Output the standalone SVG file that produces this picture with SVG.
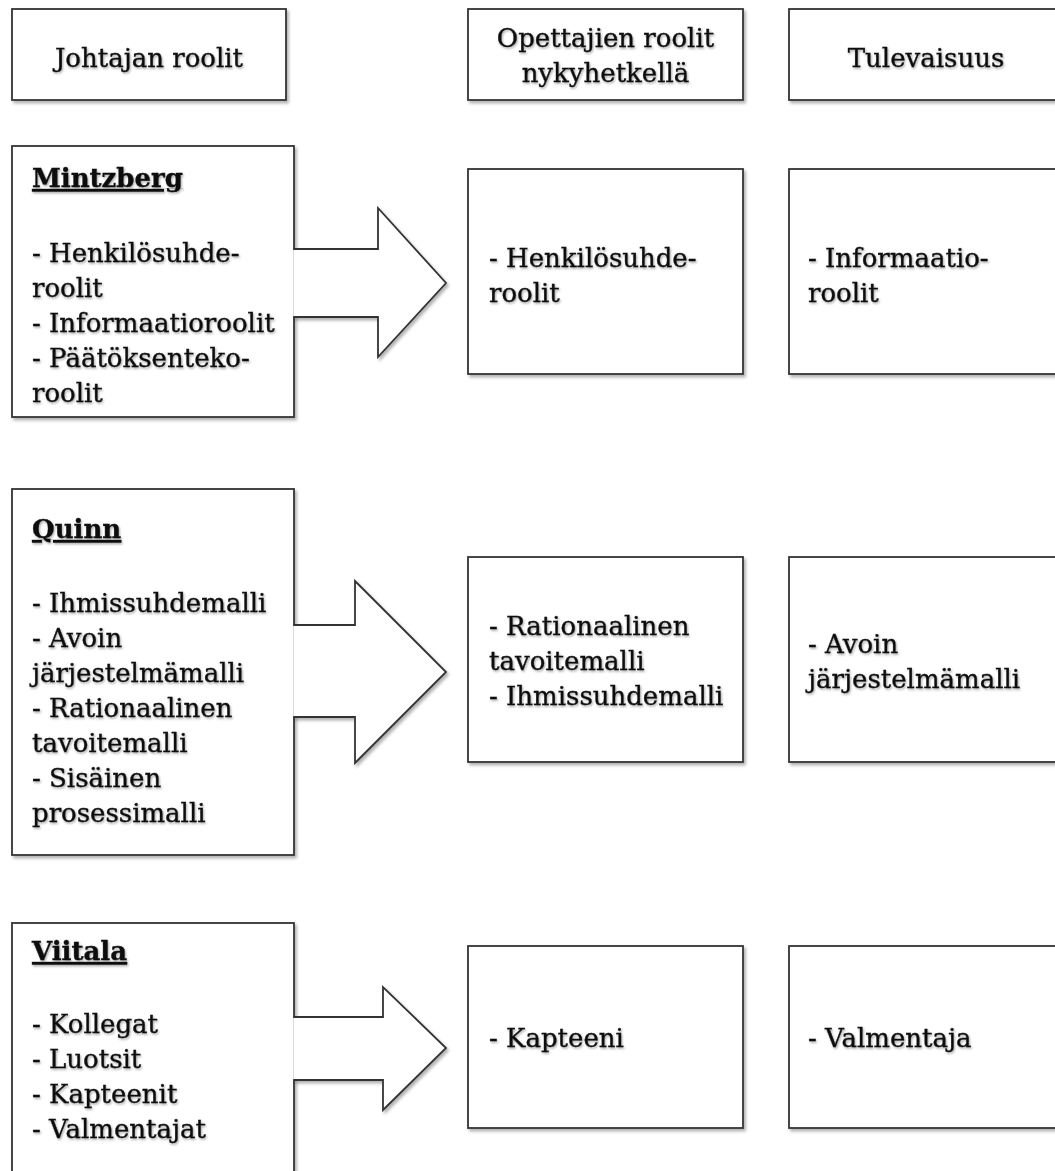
<svg xmlns="http://www.w3.org/2000/svg" width="1055" height="1171" viewBox="0 0 1055 1171">
  <defs>
    <filter id="boxShadow" x="-5%" y="-5%" width="115%" height="115%">
      <feDropShadow dx="2" dy="2.5" stdDeviation="1.6" flood-color="#000" flood-opacity="0.3"/>
    </filter>
    <filter id="txtShadow" x="-5%" y="-20%" width="115%" height="150%">
      <feDropShadow dx="1" dy="1.5" stdDeviation="1" flood-color="#000" flood-opacity="0.35"/>
    </filter>
  </defs>
  <style>
    .box { fill: #ffffff; stroke: #333333; stroke-width: 1.8; filter: url(#boxShadow); }
    .arrow { fill: #ffffff; stroke: #333333; stroke-width: 1.8; stroke-linejoin: miter; filter: url(#boxShadow); }
    text { font-family: "DejaVu Serif", "Liberation Serif", serif; font-size: 26px; fill: #111111; stroke: #111111; stroke-width: 0.35; filter: url(#txtShadow); }
    .title { font-weight: bold; text-decoration: underline; }
    .mid { text-anchor: middle; }
  </style>
  <rect width="1055" height="1171" fill="#ffffff"/>

  <g id="header-johtajan">
    <rect class="box" x="12" y="9" width="274" height="91"/>
    <text class="mid" x="149" y="67">Johtajan roolit</text>
  </g>
  <g id="header-opettajien">
    <rect class="box" x="468" y="9" width="275" height="91"/>
    <text class="mid" x="605.5" y="47">Opettajien roolit</text>
    <text class="mid" x="605.5" y="82">nykyhetkellä</text>
  </g>
  <g id="header-tulevaisuus">
    <rect class="box" x="789" y="9" width="274" height="91"/>
    <text class="mid" x="926" y="67">Tulevaisuus</text>
  </g>

  <g id="mintzberg">
    <rect class="box" x="12" y="146" width="282" height="271"/>
    <text class="title" x="32" y="187">Mintzberg</text>
    <text x="32" y="262">- Henkilösuhde-</text>
    <text x="32" y="297">roolit</text>
    <text x="32" y="332">- Informaatioroolit</text>
    <text x="32" y="367">- Päätöksenteko-</text>
    <text x="32" y="402">roolit</text>
  </g>
  <g id="mintzberg-now">
    <rect class="box" x="468" y="169" width="275" height="205"/>
    <text x="489" y="267">- Henkilösuhde-</text>
    <text x="489" y="302">roolit</text>
  </g>
  <g id="mintzberg-future">
    <rect class="box" x="789" y="169" width="274" height="205"/>
    <text x="808" y="267">- Informaatio-</text>
    <text x="808" y="302">roolit</text>
  </g>

  <g id="quinn">
    <rect class="box" x="12" y="489" width="282" height="366"/>
    <text class="title" x="32" y="538">Quinn</text>
    <text x="32" y="612">- Ihmissuhdemalli</text>
    <text x="32" y="647">- Avoin</text>
    <text x="32" y="682">järjestelmämalli</text>
    <text x="32" y="717">- Rationaalinen</text>
    <text x="32" y="752">tavoitemalli</text>
    <text x="32" y="787">- Sisäinen</text>
    <text x="32" y="822">prosessimalli</text>
  </g>
  <g id="quinn-now">
    <rect class="box" x="468" y="557" width="275" height="205"/>
    <text x="489" y="635">- Rationaalinen</text>
    <text x="489" y="670">tavoitemalli</text>
    <text x="489" y="705">- Ihmissuhdemalli</text>
  </g>
  <g id="quinn-future">
    <rect class="box" x="789" y="557" width="274" height="205"/>
    <text x="808" y="653">- Avoin</text>
    <text x="808" y="688">järjestelmämalli</text>
  </g>

  <g id="viitala">
    <rect class="box" x="12" y="923" width="282" height="290"/>
    <text class="title" x="32" y="960">Viitala</text>
    <text x="32" y="1033">- Kollegat</text>
    <text x="32" y="1068">- Luotsit</text>
    <text x="32" y="1103">- Kapteenit</text>
    <text x="32" y="1138">- Valmentajat</text>
  </g>
  <g id="viitala-now">
    <rect class="box" x="468" y="946" width="275" height="182"/>
    <text x="489" y="1047">- Kapteeni</text>
  </g>
  <g id="viitala-future">
    <rect class="box" x="789" y="946" width="274" height="182"/>
    <text x="808" y="1047">- Valmentaja</text>
  </g>

  <g id="connectors">
    <path class="arrow" d="M293.2,249 H378 V208 L446,283 L378,357 V317 H293.2"/>
    <path class="arrow" d="M293.2,625 H355 V581 L446,672 L355,763 V717 H293.2"/>
    <path class="arrow" d="M293.2,1017 H383 V987 L446,1048 L383,1110 V1080 H293.2"/>
  </g>
</svg>
